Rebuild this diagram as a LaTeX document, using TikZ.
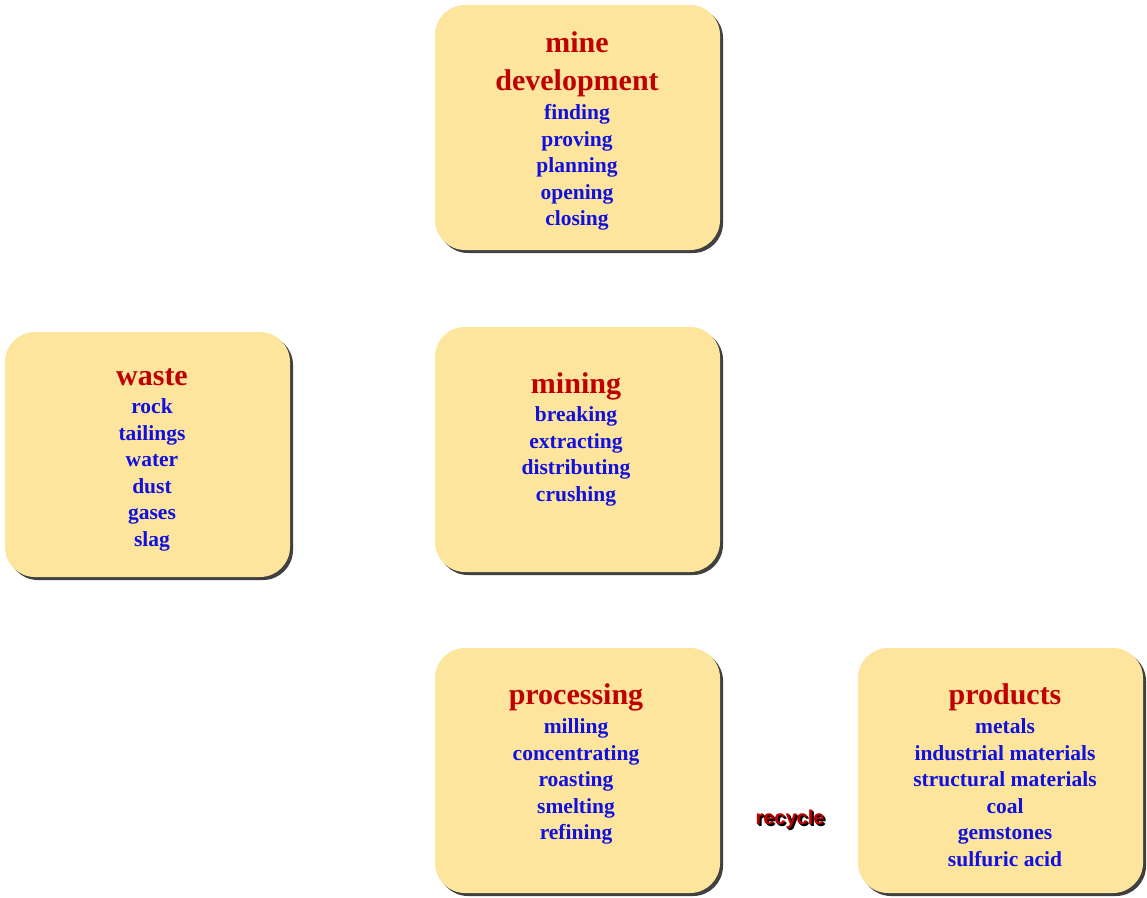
\documentclass[tikz,border=0pt]{standalone}
\usepackage{fontspec}
\setmainfont{Liberation Serif}
\newfontfamily\recfont{Liberation Sans}
\definecolor{boxfill}{HTML}{FDE59D}
\definecolor{ttl}{HTML}{C00000}
\definecolor{itm}{HTML}{1010E0}
\begin{document}
\begin{tikzpicture}[x=1pt,y=-1pt,
  card/.style={fill=boxfill,rounded corners=30pt},
  shade/.style={fill=black!75,rounded corners=30pt},
  ttlnode/.style={text=ttl,font=\fontsize{30}{33}\selectfont\bfseries,inner sep=0pt,anchor=base},
  itmnode/.style={text=itm,font=\fontsize{21.5}{24}\selectfont\bfseries,inner sep=0pt,anchor=base}]
\path[use as bounding box] (0,0) rectangle (1147,897);
\foreach \x/\y in {435/5, 5/332, 435/327, 435/648, 858/648}{
  \fill[shade] (\x+3,\y+3) rectangle (\x+288,\y+248);
  \fill[card] (\x,\y) rectangle (\x+285,\y+245);
}
% mine development
\node[ttlnode] (md1) at (577,52) {mine};
\node[ttlnode] (md2) at (577,90) {development};
\foreach \t [count=\i] in {finding,proving,planning,opening,closing}
  \node[itmnode] (md-\i) at (577,93+26.5*\i) {\t};
% waste
\node[ttlnode] (w) at (152,385) {waste};
\foreach \t [count=\i] in {rock,tailings,water,dust,gases,slag}
  \node[itmnode] (w-\i) at (152,387+26.5*\i) {\t};
% mining
\node[ttlnode] (m) at (576,393) {mining};
\foreach \t [count=\i] in {breaking,extracting,distributing,crushing}
  \node[itmnode] (m-\i) at (576,395+26.5*\i) {\t};
% processing
\node[ttlnode] (p) at (576,704) {processing};
\foreach \t [count=\i] in {milling,concentrating,roasting,smelting,refining}
  \node[itmnode] (p-\i) at (576,707+26.5*\i) {\t};
% products
\node[ttlnode] (pr) at (1005,704) {products};
\foreach \t [count=\i] in {metals,industrial materials,structural materials,coal,gemstones,sulfuric acid}
  \node[itmnode] (pr-\i) at (1005,707+26.5*\i) {\t};
% recycle
\node[font=\recfont\fontsize{20}{22}\selectfont\bfseries,inner sep=0pt] (rec) at (790,820)
  {\rlap{\color{black}\hspace{2pt}\raisebox{-2pt}{recycle}}\rlap{\color{black}\hspace{1pt}\raisebox{-1pt}{recycle}}\textcolor{ttl}{recycle}};
\end{tikzpicture}
\end{document}
